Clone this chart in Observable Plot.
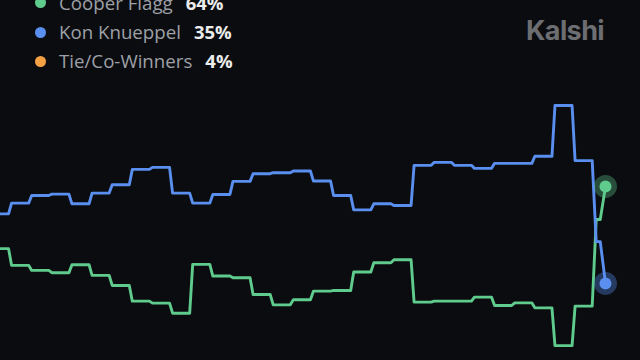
<!DOCTYPE html>
<html><head><meta charset="utf-8">
<script src="https://cdn.jsdelivr.net/npm/d3@7"></script>
<script src="https://cdn.jsdelivr.net/npm/@observablehq/plot@0.6"></script>
<style>
html,body{margin:0;padding:0;background:#0b0c10;}
#wrap{position:relative;width:640px;height:360px;overflow:hidden;background:#0b0c10;font-family:Inter,"Noto Sans",sans-serif;}
#chart{position:absolute;left:0;top:0;}
.row{position:absolute;left:35px;height:22px;display:flex;align-items:center;white-space:nowrap;line-height:22px;}
.dot{width:11px;height:11px;border-radius:50%;margin-right:13px;flex:none;}
.name{color:#9da0a6;font-family:"Open Sans",sans-serif;font-size:18.7px;}
.pct{color:#ececec;font-weight:700;margin-left:13px;font-family:"Open Sans",sans-serif;font-size:18.5px;}
#logo{position:absolute;left:526px;top:16px;font-size:27px;line-height:30px;font-weight:700;color:#6d6e72;letter-spacing:-0.6px;}
</style></head><body>
<div id="wrap"><div id="chart"></div><div id="legend"></div><div id="logo">Kalshi</div></div>
<script>
// Legend
const names = ["Cooper Flagg", "Kon Knueppel", "Tie/Co-Winners"];
const pcts = ["64%", "35%", "4%"];
const colors = ["#5fcb8c", "#5a8ff0", "#f4a144"];

// Step levels (percent chance), one value per step period
const flaggLevels = [45.4,40.4,38.9,38.2,40.6,37.4,34.4,29.7,29.1,26.1,40.7,37.2,36.7,31.7,28.6,30.1,32.7,32.9,38.4,41.2,42.1,29.4,29.7,29.7,30.9,28.4,29.2,27.7,16.4,28.2];
const knueppelLevels = [55.8,59.0,61.3,61.7,58.8,62.0,64.5,69.1,69.7,62.0,59.0,61.6,65.5,67.8,68.1,68.6,65.6,61.3,57.0,58.8,58.3,70.3,71.2,70.3,69.4,70.9,70.9,73.0,88.2,71.7];
// Final moves after the last full step: [time, value]
const flaggTail = [[29.2,54.1],[29.4,54.1],[29.66,64]];
const knueppelTail = [[29.2,47.5],[29.4,47.5],[29.66,35]];

function build(levels, tail, series){
  const pts = [];
  levels.forEach((v,k)=>{
    pts.push({t: k===0 ? -0.4 : k-1+0.15, v, series});
    pts.push({t: k, v, series});
  });
  tail.forEach(([t,v])=>pts.push({t, v, series}));
  return pts;
}
const flagg = build(flaggLevels, flaggTail, names[0]);
const knueppel = build(knueppelLevels, knueppelTail, names[1]);
const ends = [flagg[flagg.length-1], knueppel[knueppel.length-1]];

const chart = Plot.plot({
  width:640, height:360, margin:0,
  style:{background:"transparent", overflow:"visible"},
  x:{domain:[-0.4,31.4], range:[0,640], axis:null},
  y:{domain:[0,100], range:[400,65.5], axis:null},
  marks:[
    Plot.line(flagg, {x:"t", y:"v", stroke:colors[0], strokeWidth:2.9, strokeLinejoin:"round"}),
    Plot.line(knueppel, {x:"t", y:"v", stroke:colors[1], strokeWidth:2.9, strokeLinejoin:"round"}),
    Plot.dot(ends, {x:"t", y:"v", r:11.5, fill:(d)=>d.series===names[0]?colors[0]:colors[1], fillOpacity:0.35, stroke:null}),
    Plot.dot(ends, {x:"t", y:"v", r:6, fill:(d)=>d.series===names[0]?colors[0]:colors[1], stroke:null})
  ]
});
document.getElementById("chart").appendChild(chart);

const legend = document.getElementById("legend");
const centers = [2.5, 32, 61];
names.forEach((n,i)=>{
  const row = document.createElement("div");
  row.className = "row";
  row.style.top = (centers[i]-11)+"px";
  row.innerHTML = `<span class="dot" style="background:${colors[i]}"></span><span class="name">${n}</span><span class="pct">${pcts[i]}</span>`;
  legend.appendChild(row);
});
</script>
</body></html>
